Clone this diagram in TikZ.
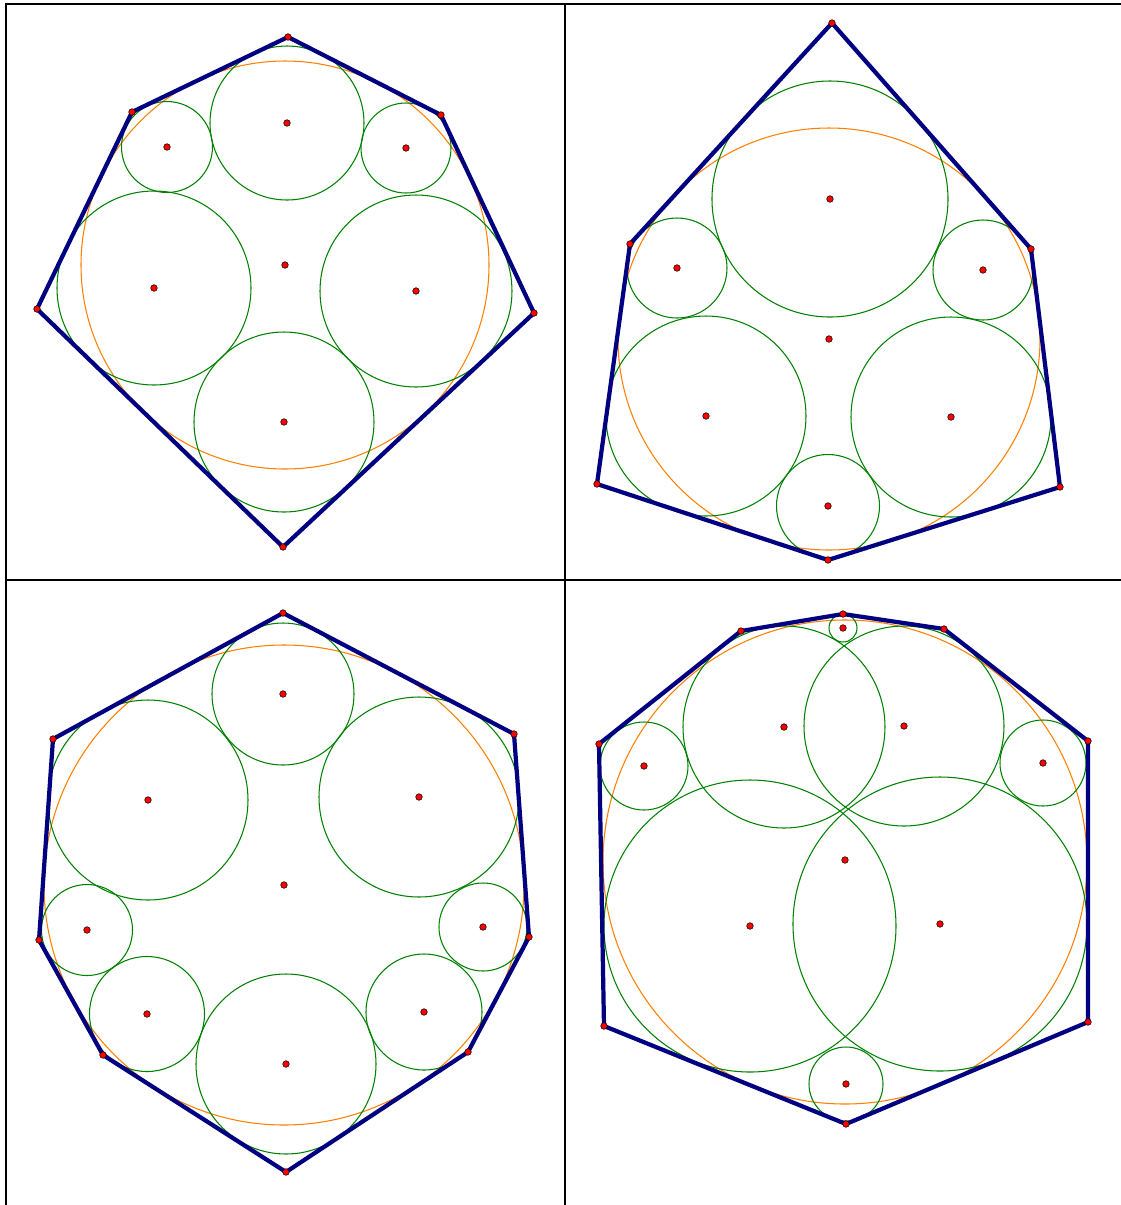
\documentclass[tikz,border=0pt]{standalone}
\usepackage{tikz}
\usepackage{xcolor}
\definecolor{polyblue}{RGB}{0,0,128}
\definecolor{incirc}{RGB}{255,128,0}
\definecolor{tancirc}{RGB}{0,128,0}
\tikzset{
  frame/.style={line width=1.1pt,black},
  polyline/.style={draw=polyblue,line width=2.4pt,line join=round},
  orangec/.style={draw=incirc,line width=0.6pt},
  greenc/.style={draw=tancirc,line width=0.6pt},
  ptdot/.style={fill=red,draw=black,line width=0.3pt}
}

\begin{document}
\begin{tikzpicture}[x=0.02cm,y=-0.02cm]
  \useasboundingbox (0,0) rectangle (1121,1205);
  % frame of the four panels
  \draw[frame] (6,1205) -- (6,4) -- (1121,4);
  \draw[frame] (565,4) -- (565,1205);
  \draw[frame] (6,580) -- (1121,580);

  % panel one: hexagon
  \draw[orangec] (285,265) circle (204);
  \foreach \cx/\cy/\r in {287/123/77, 167/147/45.5, 406/148/45, 154/288/97,
    416/291/96, 284/422/90}
    \draw[greenc] (\cx,\cy) circle (\r);
  \path (288,37) coordinate (pa1) (441,115) coordinate (pa2)
    (534,313) coordinate (pa3) (283,547) coordinate (pa4)
    (37,309) coordinate (pa5) (132,112) coordinate (pa6);
  \draw[polyline] (pa1) -- (pa2) -- (pa3) -- (pa4) -- (pa5) -- (pa6) -- cycle;

  % panel two: hexagon
  \draw[orangec] (829,339) circle (211);
  \foreach \cx/\cy/\r in {830/199/118, 677/268/50, 983/270/50, 706/416/100,
    951/417/100, 828/506/51.5}
    \draw[greenc] (\cx,\cy) circle (\r);
  \path (832,23) coordinate (pb1) (1031,249) coordinate (pb2)
    (1060,487) coordinate (pb3) (828,560) coordinate (pb4)
    (597,484) coordinate (pb5) (630,244) coordinate (pb6);
  \draw[polyline] (pb1) -- (pb2) -- (pb3) -- (pb4) -- (pb5) -- (pb6) -- cycle;

  % panel three: octagon
  \draw[orangec] (284,885) circle (240);
  \foreach \cx/\cy/\r in {283/694/71, 148/800/100, 419/797/100, 87/930/45.5,
    483/927/44, 147/1014/57.5, 424/1012/58, 286/1064/90}
    \draw[greenc] (\cx,\cy) circle (\r);
  \path (283,613) coordinate (pc1) (514,734) coordinate (pc2)
    (529,937) coordinate (pc3) (468,1052) coordinate (pc4)
    (286,1172) coordinate (pc5) (103,1055) coordinate (pc6)
    (39,940) coordinate (pc7) (53,739) coordinate (pc8);
  \draw[polyline] (pc1) -- (pc2) -- (pc3) -- (pc4) -- (pc5) -- (pc6) -- (pc7)
    -- (pc8) -- cycle;

  % panel four: octagon
  \draw[orangec] (845,862) circle (242);
  \foreach \cx/\cy/\r in {843/628/14, 784/727/101, 904/726/100, 644/766/44,
    1043/763/43, 750/926/146, 940/924/147, 846/1084/37}
    \draw[greenc] (\cx,\cy) circle (\r);
  \path (843,614) coordinate (pd1) (944,629) coordinate (pd2)
    (1088,741) coordinate (pd3) (1088,1022) coordinate (pd4)
    (846,1124) coordinate (pd5) (604,1026) coordinate (pd6)
    (599,744) coordinate (pd7) (741,631) coordinate (pd8);
  \draw[polyline] (pd1) -- (pd2) -- (pd3) -- (pd4) -- (pd5) -- (pd6) -- (pd7)
    -- (pd8) -- cycle;

  % centres and vertices
  \foreach \cx/\cy in {285/265, 287/123, 167/147, 406/148, 154/288, 416/291,
    284/422, 829/339, 830/199, 677/268, 983/270, 706/416, 951/417, 828/506,
    284/885, 283/694, 148/800, 419/797, 87/930, 483/927, 147/1014, 424/1012,
    286/1064, 845/860, 843/628, 784/727, 904/726, 644/766, 1043/763, 750/926,
    940/924, 846/1084}
    \draw[ptdot] (\cx,\cy) circle (0.066cm);
  \foreach \p in {pa1,pa2,pa3,pa4,pa5,pa6,pb1,pb2,pb3,pb4,pb5,pb6,
    pc1,pc2,pc3,pc4,pc5,pc6,pc7,pc8,pd1,pd2,pd3,pd4,pd5,pd6,pd7,pd8}
    \draw[ptdot] (\p) circle (0.066cm);
\end{tikzpicture}
\end{document}
